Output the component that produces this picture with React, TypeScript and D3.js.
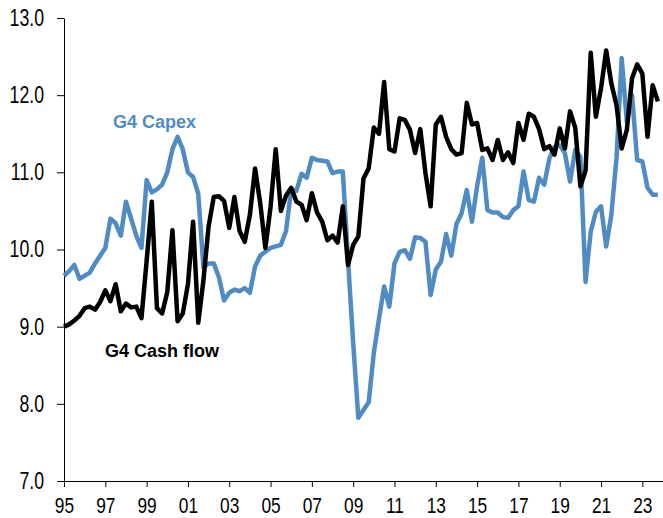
import React, { useEffect, useRef } from "react";
import * as d3 from "d3";

// quarterly, 1995Q1 .. 2023Q4
const startYear = 1995;

const capex = [
  9.66, 9.72, 9.8, 9.62, 9.66, 9.7, 9.82, 9.92, 10.02, 10.4, 10.34, 10.18,
  10.62, 10.4, 10.18, 10.02, 10.9, 10.74, 10.78, 10.84, 11.0, 11.3, 11.46, 11.3,
  11.0, 10.94, 10.72, 9.77, 9.82, 9.82, 9.64, 9.34, 9.44, 9.48, 9.46, 9.5,
  9.44, 9.78, 9.92, 9.97, 10.02, 10.04, 10.06, 10.24, 10.78, 10.76, 10.98, 10.93,
  11.19, 11.16, 11.15, 11.14, 10.99, 11.01, 11.01, 9.87, 8.79, 7.82, 7.92, 8.02,
  8.66, 9.1, 9.52, 9.26, 9.82, 9.97, 9.99, 9.88, 10.16, 10.15, 10.1, 9.41,
  9.74, 9.84, 10.2, 9.92, 10.33, 10.47, 10.77, 10.36, 10.82, 11.19, 10.51, 10.48,
  10.48, 10.42, 10.41, 10.51, 10.56, 11.01, 10.64, 10.62, 10.93, 10.84, 11.18, 11.33,
  11.35, 11.25, 10.88, 11.29, 11.2, 9.58, 10.23, 10.49, 10.56, 10.04, 10.45, 11.19,
  12.48, 11.65, 12.0, 11.16, 11.14, 10.8, 10.71, 10.71,
];

const cashFlow = [
  9.0, 9.03, 9.08, 9.14, 9.24, 9.26, 9.22, 9.32, 9.47, 9.33, 9.55, 9.2,
  9.3, 9.25, 9.26, 9.11, 9.85, 10.62, 9.24, 9.17, 9.45, 10.25, 9.07, 9.17,
  9.55, 10.36, 9.05, 9.6, 10.3, 10.68, 10.69, 10.63, 10.28, 10.68, 10.24, 10.1,
  10.45, 11.05, 10.6, 10.02, 10.55, 11.3, 10.5, 10.7, 10.8, 10.62, 10.58, 10.38,
  10.73, 10.48, 10.36, 10.12, 10.18, 10.09, 10.56, 9.8, 10.06, 10.17, 10.92, 11.05,
  11.58, 11.5, 12.17, 11.3, 11.27, 11.7, 11.68, 11.55, 11.25, 11.56, 10.99, 10.56,
  11.62, 11.72, 11.46, 11.3, 11.23, 11.25, 11.9, 11.62, 11.64, 11.29, 11.31, 11.16,
  11.42, 11.16, 11.26, 11.12, 11.64, 11.42, 11.76, 11.72, 11.56, 11.3, 11.34, 11.23,
  11.57, 11.31, 11.79, 11.58, 10.82, 11.02, 12.55, 11.72, 12.09, 12.58, 12.15, 11.87,
  11.31, 11.55, 12.22, 12.4, 12.28, 11.46, 12.13, 11.92,
];

const xTicks = d3.range(1995, 2024, 2);
const yTicks = [7, 8, 9, 10, 11, 12, 13];

const BLUE = "#4f8cc5";
const tickFont = "'Liberation Sans', Arial, sans-serif";
const narrow = 0.77; // squeeze to look like Arial Narrow

export default function App() {
  const svgRef = useRef<SVGSVGElement>(null);

  useEffect(() => {
    const width = 663;
    const height = 518;
    const margin = { top: 18, right: 0, bottom: 37, left: 64 };

    const svg = d3.select(svgRef.current);
    svg.selectAll("*").remove();
    svg.attr("width", width).attr("height", height);

    const x = d3.scaleLinear().domain([1995, 2024]).range([margin.left, width - margin.right]);
    const y = d3.scaleLinear().domain([7, 13]).range([height - margin.bottom, margin.top]);

    // y axis
    const yAxis = svg
      .append("g")
      .attr("transform", `translate(${margin.left},0)`)
      .call(
        d3.axisLeft(y).tickValues(yTicks).tickSizeInner(7).tickSizeOuter(0).tickPadding(13)
          .tickFormat((d) => d3.format(".1f")(d as number))
      );
    yAxis.selectAll("text")
      .attr("font-size", 23)
      .attr("font-family", tickFont)
      .attr("fill", "#000")
      .attr("x", -20 / narrow)
      .attr("transform", `scale(${narrow},1)`);
    yAxis.selectAll("line, path").attr("stroke", "#000");

    // x axis
    const xAxis = svg
      .append("g")
      .attr("transform", `translate(0,${y(7)})`)
      .call(
        d3.axisBottom(x).tickValues(xTicks).tickSizeInner(6).tickSizeOuter(0).tickPadding(10)
          .tickFormat((d) => String((d as number) % 100).padStart(2, "0"))
      );
    xAxis.selectAll("text")
      .attr("font-size", 22.5)
      .attr("font-family", tickFont)
      .attr("fill", "#000")
      .attr("transform", `scale(${narrow},1)`);
    xAxis.selectAll("line, path").attr("stroke", "#000");

    const line = d3
      .line<number>()
      .x((d, i) => x(startYear + i / 4))
      .y((d) => y(d));

    svg.append("path")
      .attr("d", line(capex))
      .attr("fill", "none")
      .attr("stroke", BLUE)
      .attr("stroke-width", 4.5)
      .attr("stroke-linejoin", "round");

    svg.append("path")
      .attr("d", line(cashFlow))
      .attr("fill", "none")
      .attr("stroke", "#000")
      .attr("stroke-width", 4.5)
      .attr("stroke-linejoin", "round");

    // series labels
    svg.append("text")
      .attr("x", 113)
      .attr("y", 128)
      .attr("font-family", "'Liberation Sans', Arial, sans-serif")
      .attr("font-weight", "bold")
      .attr("font-size", 18)
      .attr("fill", BLUE)
      .text("G4 Capex");

    svg.append("text")
      .attr("x", 105)
      .attr("y", 357)
      .attr("font-family", "'Liberation Sans', Arial, sans-serif")
      .attr("font-weight", "bold")
      .attr("font-size", 18)
      .attr("fill", "#000")
      .text("G4 Cash flow");
  }, []);

  return (
    <div style={{ position: "absolute", left: 0, top: 0 }}>
      <svg ref={svgRef} />
    </div>
  );
}
